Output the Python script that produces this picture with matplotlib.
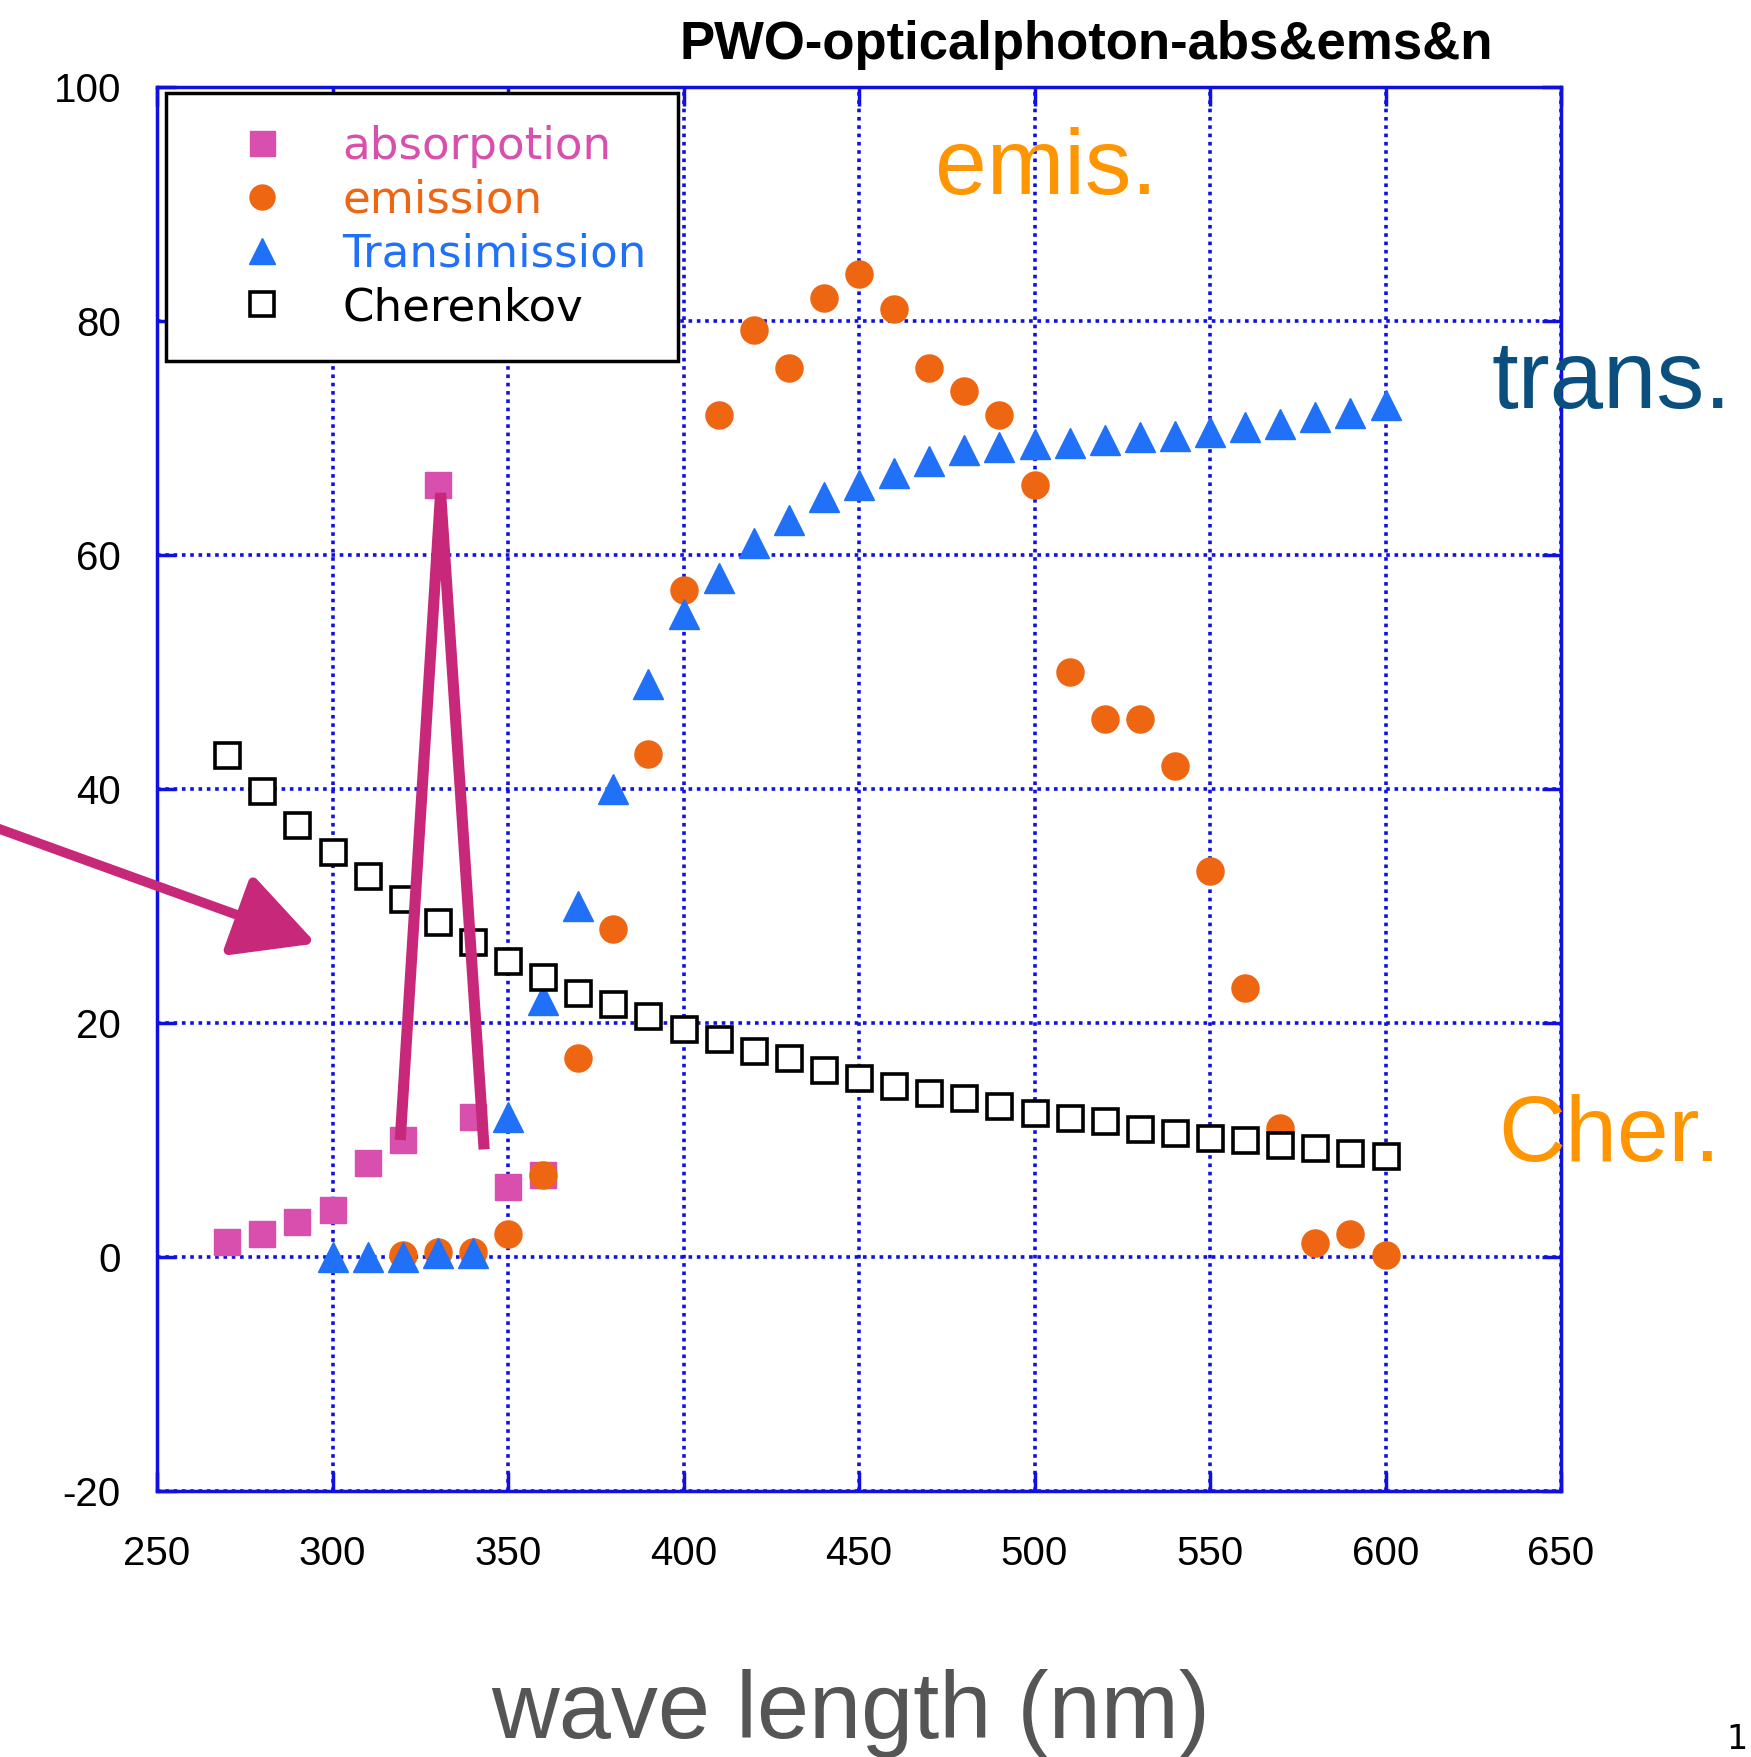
import matplotlib
matplotlib.use("Agg")
import matplotlib.pyplot as plt
from matplotlib.lines import Line2D

# ---------------- data ----------------
abs_x = [270, 280, 290, 300, 310, 320, 330, 340, 350, 360]
abs_y = [1.3, 2.0, 3.0, 4.0, 8.0, 10.0, 66.0, 12.0, 6.0, 7.0]

ems_x = [320, 330, 340, 350, 360, 370, 380, 390, 400, 410, 420, 430, 440, 450,
         460, 470, 480, 490, 500, 510, 520, 530, 540, 550, 560, 570, 580, 590, 600]
ems_y = [0.2, 0.4, 0.4, 2.0, 7.0, 17.0, 28.0, 43.0, 57.0, 72.0, 79.2, 76.0, 82.0, 84.0,
         81.0, 76.0, 74.0, 72.0, 66.0, 50.0, 46.0, 46.0, 42.0, 33.0, 23.0, 11.0, 1.2, 2.0, 0.2]

trn_x = [300, 310, 320, 330, 340, 350, 360, 370, 380, 390, 400, 410, 420, 430, 440,
         450, 460, 470, 480, 490, 500, 510, 520, 530, 540, 550, 560, 570, 580, 590, 600]
trn_y = [0.0, 0.0, 0.0, 0.3, 0.3, 12.0, 22.0, 30.0, 40.0, 49.0, 55.0, 58.0, 61.0, 63.0, 65.0,
         66.0, 67.0, 68.0, 69.0, 69.2, 69.5, 69.6, 69.8, 70.1, 70.2, 70.5, 70.9, 71.2, 71.8, 72.1, 72.8]

chr_x = [270, 280, 290, 300, 310, 320, 330, 340, 350, 360, 370, 380, 390, 400, 410, 420, 430,
         440, 450, 460, 470, 480, 490, 500, 510, 520, 530, 540, 550, 560, 570, 580, 590, 600]
chr_y = [42.9, 39.8, 36.9, 34.6, 32.6, 30.6, 28.6, 26.9, 25.3, 23.9, 22.6, 21.6, 20.6, 19.5,
         18.6, 17.6, 17.0, 16.0, 15.3, 14.6, 14.0, 13.6, 12.9, 12.3, 11.9, 11.6, 10.9, 10.6,
         10.2, 10.0, 9.6, 9.3, 8.9, 8.6]

labels = ["absorpotion", "emission", "Transimission", "Cherenkov"]
x_ticks = [250, 300, 350, 400, 450, 500, 550, 600, 650]
y_ticks = [-20, 0, 20, 40, 60, 80, 100]

# peak annotation line (hand-drawn marker on the absorption peak)
peak_x = [319.3, 330.8, 343.2]
peak_y = [10.0, 65.3, 9.2]

# ---------------- style ----------------
PINK = "#d84fae"
ORANGE = "#ee6611"
BLUE = "#2070f8"
AXBLUE = "#1010e0"
MAGENTA = "#c8287a"
NARROW = ["DejaVu Sans Condensed", "Liberation Sans Narrow", "Liberation Sans", "DejaVu Sans"]

W, H = 1751, 1757
fig = plt.figure(figsize=(W / 100, H / 100), dpi=100)
ax = fig.add_axes([157 / W, 1 - 1491 / H, 1404 / W, 1404 / H])

ax.set_xlim(250, 650)
ax.set_ylim(-20, 100)
ax.set_xticks(x_ticks)
ax.set_yticks(y_ticks)
ax.set_xticklabels([str(v) for v in x_ticks], fontfamily=NARROW, fontsize=29)
ax.set_yticklabels([str(v) for v in y_ticks], fontfamily=NARROW, fontsize=29)
ax.tick_params(direction="in", length=14, width=2.5, color=AXBLUE,
               top=True, right=True)
ax.tick_params(axis="x", pad=32)
ax.tick_params(axis="y", pad=26)
for s in ax.spines.values():
    s.set_color(AXBLUE)
    s.set_linewidth(2.5)
ax.grid(True, color=AXBLUE, linestyle=(0, (1, 1.3)), linewidth=2.6)
ax.set_axisbelow(True)

ax.plot(abs_x, abs_y, "s", color=PINK, ms=19, mec=PINK, zorder=3)
ax.plot(ems_x, ems_y, "o", color=ORANGE, ms=19.5, mec=ORANGE, zorder=3)
ax.plot(trn_x, trn_y, "^", color=BLUE, ms=21, mec=BLUE, zorder=4)
ax.plot(chr_x, chr_y, "s", mfc="white", mec="black", mew=2.6, ms=18, zorder=5)

ax.plot(peak_x, peak_y, color=MAGENTA, lw=8, solid_capstyle="butt",
        solid_joinstyle="miter", zorder=6)

# arrow from left margin
ax.annotate("", xy=(295.3, 26.8), xycoords="data",
            xytext=(-0.005, 1 - 826 / H), textcoords="figure fraction",
            arrowprops=dict(arrowstyle="-|>,head_length=1.25,head_width=0.65",
                            color=MAGENTA, lw=7, mutation_scale=40, shrinkA=0, shrinkB=0),
            annotation_clip=False, zorder=6)

# legend
handles = [
    Line2D([], [], ls="none", marker="s", color=PINK, mec=PINK, ms=18),
    Line2D([], [], ls="none", marker="o", color=ORANGE, mec=ORANGE, ms=18),
    Line2D([], [], ls="none", marker="^", color=BLUE, mec=BLUE, ms=19),
    Line2D([], [], ls="none", marker="s", mfc="white", mec="black", mew=2.6, ms=17),
]
leg = ax.legend(handles, labels, loc="upper left", bbox_to_anchor=(0.0064, 0.9957),
                prop={"family": "DejaVu Sans", "size": 32.5},
                labelcolor=[PINK, ORANGE, BLUE, "black"],
                frameon=True, fancybox=False, framealpha=1, edgecolor="black",
                borderpad=0.7, labelspacing=0.24, handlelength=2.85,
                handletextpad=0.35, borderaxespad=0)
leg.get_frame().set_linewidth(2.5)
leg.set_zorder(10)

# title
fig.text(970 / 1563, 1 - 45 / H, "PWO-opticalphoton-abs&ems&n", ha="center", va="center",
         fontfamily=NARROW, fontweight="bold", fontsize=38)

# overlaid annotations
fig.text(1046 / W, 1 - 170 / H, "emis.", color="#ff9500", ha="center", va="center",
         fontfamily="Liberation Sans", fontsize=67)
fig.text(1611 / W, 1 - 383 / H, "trans.", color="#0b4f7f", ha="center", va="center",
         fontfamily="Liberation Sans", fontsize=69)
fig.text(1609 / W, 1 - 1137 / H, "Cher.", color="#ff9500", ha="center", va="center",
         fontfamily="Liberation Sans", fontsize=67)
fig.text(851 / W, 1 - 1714 / H, "wave length (nm)", color="#555555", ha="center", va="center",
         fontfamily="Liberation Sans", fontsize=67.5)
fig.text(1726 / W, 1 - 1756 / H, "1", color="black", ha="left", va="bottom",
         fontfamily="DejaVu Sans", fontsize=24)

fig.savefig("out.png", dpi=100)
